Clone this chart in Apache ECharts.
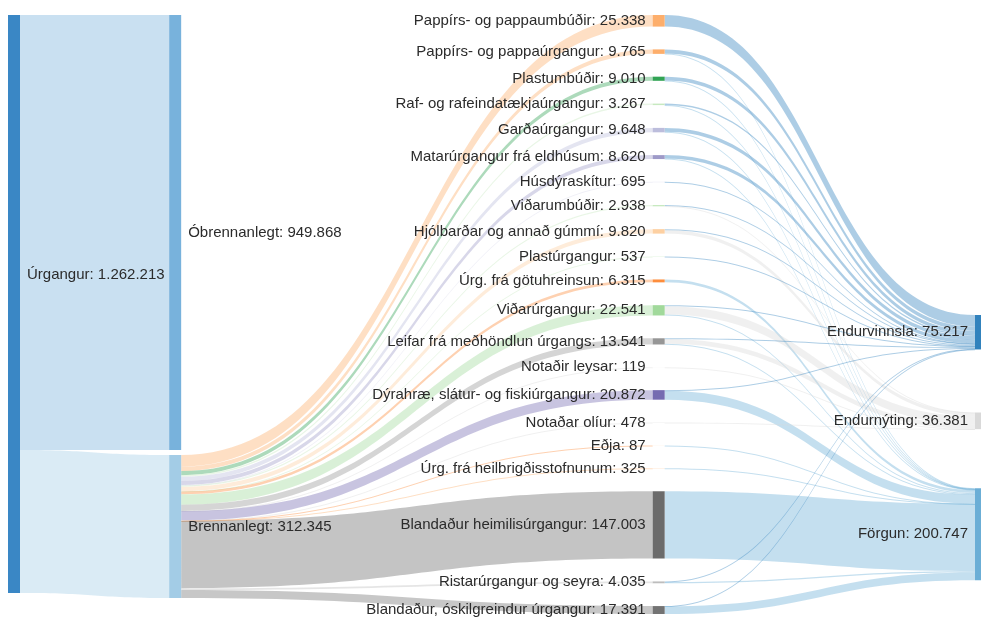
<!DOCTYPE html>
<html><head><meta charset="utf-8">
<script src="https://cdn.jsdelivr.net/npm/echarts@6/dist/echarts.min.js"></script>
<style>html,body{margin:0;padding:0;background:#fff}#c{width:981px;height:619px}</style>
</head><body><div id="c"></div>
<script>
// ---- data ----
const rootName = 'Úrgangur';
const level1Names = ['Óbrennanlegt', 'Brennanlegt'];
const level1Values = [949868, 312345];
const categories = [
  'Pappírs- og pappaumbúðir', 'Pappírs- og pappaúrgangur', 'Plastumbúðir',
  'Raf- og rafeindatækjaúrgangur', 'Garðaúrgangur', 'Matarúrgangur frá eldhúsum',
  'Húsdýraskítur', 'Viðarumbúðir', 'Hjólbarðar og annað gúmmí', 'Plastúrgangur',
  'Úrg. frá götuhreinsun', 'Viðarúrgangur', 'Leifar frá meðhöndlun úrgangs',
  'Notaðir leysar', 'Dýrahræ, slátur- og fiskiúrgangur', 'Notaðar olíur', 'Eðja',
  'Úrg. frá heilbrigðisstofnunum', 'Blandaður heimilisúrgangur',
  'Ristarúrgangur og seyra', 'Blandaður, óskilgreindur úrgangur'
];
const categoryValues = [25338, 9765, 9010, 3267, 9648, 8620, 695, 2938, 9820, 537,
  6315, 22541, 13541, 119, 20872, 478, 87, 325, 147003, 4035, 17391];
const outcomes = ['Endurvinnsla', 'Endurnýting', 'Förgun'];
const toEndurvinnsla = [25338, 9200, 8200, 3000, 8500, 7600, 695, 2500, 2147, 537,
  0, 2500, 1800, 0, 1500, 0, 0, 0, 0, 1200, 500];
const toEndurnyting = [0, 0, 0, 0, 0, 0, 0, 438, 7673, 0,
  0, 17673, 10000, 119, 0, 478, 0, 0, 0, 0, 0];
const toForgun = [0, 565, 810, 267, 1148, 1020, 0, 0, 0, 0,
  6315, 2368, 1741, 0, 19372, 0, 87, 325, 147003, 2835, 16891];

// ---- styles / layout (not data) ----
const nodeColors = {
  'Úrgangur': '#3a87c5', 'Óbrennanlegt': '#78b2dc', 'Brennanlegt': '#a3cce6',
  'Pappírs- og pappaumbúðir': '#fdae6b', 'Pappírs- og pappaúrgangur': '#fdae6b',
  'Plastumbúðir': '#31a354', 'Raf- og rafeindatækjaúrgangur': '#c7e9c0',
  'Garðaúrgangur': '#bcbddc', 'Matarúrgangur frá eldhúsum': '#9e9ac8',
  'Húsdýraskítur': '#dadaeb', 'Viðarumbúðir': '#c7e9c0',
  'Hjólbarðar og annað gúmmí': '#fdd0a2', 'Plastúrgangur': '#c7e9c0',
  'Úrg. frá götuhreinsun': '#fd8d3c', 'Viðarúrgangur': '#a1d99b',
  'Leifar frá meðhöndlun úrgangs': '#969696', 'Notaðir leysar': '#d9d9d9',
  'Dýrahræ, slátur- og fiskiúrgangur': '#756bb1', 'Notaðar olíur': '#d9d9d9',
  'Eðja': '#fd8d3c', 'Úrg. frá heilbrigðisstofnunum': '#fdae6b',
  'Blandaður heimilisúrgangur': '#6b6b6b', 'Ristarúrgangur og seyra': '#bdbdbd',
  'Blandaður, óskilgreindur úrgangur': '#737373',
  'Endurvinnsla': '#3182bd', 'Endurnýting': '#d9d9d9', 'Förgun': '#6baed6'
};
const TOP = 15, HEIGHT = 600.8;
const nodeTopPx = { 'Brennanlegt': 455, 'Endurvinnsla': 315, 'Endurnýting': 412.5, 'Förgun': 488.3 };
const labelOffsets = { 'Úrgangur': [0, -29] };

function fmt(v) { return String(Math.round(v)).replace(/\B(?=(\d{3})+(?!\d))/g, '.'); }
const sum = a => a.reduce((s, x) => s + x, 0);

const flowsByOutcome = [toEndurvinnsla, toEndurnyting, toForgun];
const nodes = [];
const links = [];
function addNode(name, value, depth) {
  const n = {
    name, value, depth,
    itemStyle: { color: nodeColors[name] },
    label: { position: depth < 4 ? 'right' : 'left' }
  };
  if (labelOffsets[name]) n.label.offset = labelOffsets[name];
  if (nodeTopPx[name] != null) n.localY = (nodeTopPx[name] - TOP) / HEIGHT;
  nodes.push(n);
}
addNode(rootName, sum(level1Values), 0);
level1Names.forEach((n, i) => addNode(n, level1Values[i], 1));
categories.forEach((n, i) => addNode(n, categoryValues[i], 4));
outcomes.forEach((n, i) => addNode(n, sum(flowsByOutcome[i]), 6));

level1Names.forEach((n, i) => links.push({ source: rootName, target: n, value: level1Values[i] }));
categories.forEach((n, i) => links.push({ source: 'Brennanlegt', target: n, value: categoryValues[i] }));
categories.forEach((n, i) => {
  outcomes.forEach((o, j) => {
    const v = flowsByOutcome[j][i];
    if (v > 0) links.push({ source: n, target: o, value: v });
  });
});

const chart = echarts.init(document.getElementById('c'), null, { renderer: 'canvas' });
chart.setOption({
  backgroundColor: '#ffffff',
  animation: false,
  series: [{
    type: 'sankey',
    left: 8, top: TOP, width: 979, height: HEIGHT,
    nodeWidth: 12,
    nodeGap: 22.8,
    layoutIterations: 0,
    nodeAlign: 'left',
    draggable: false,
    emphasis: { disabled: true },
    data: nodes,
    links: links,
    itemStyle: { borderWidth: 0 },
    lineStyle: { color: 'target', opacity: 0.4, curveness: 0.5 },
    label: {
      fontFamily: 'Liberation Sans, Arial, sans-serif',
      fontSize: 15,
      color: '#2b2b2b',
      distance: 7,
      formatter: p => p.name + ': ' + fmt(p.value)
    }
  }]
});
</script>
</body></html>
